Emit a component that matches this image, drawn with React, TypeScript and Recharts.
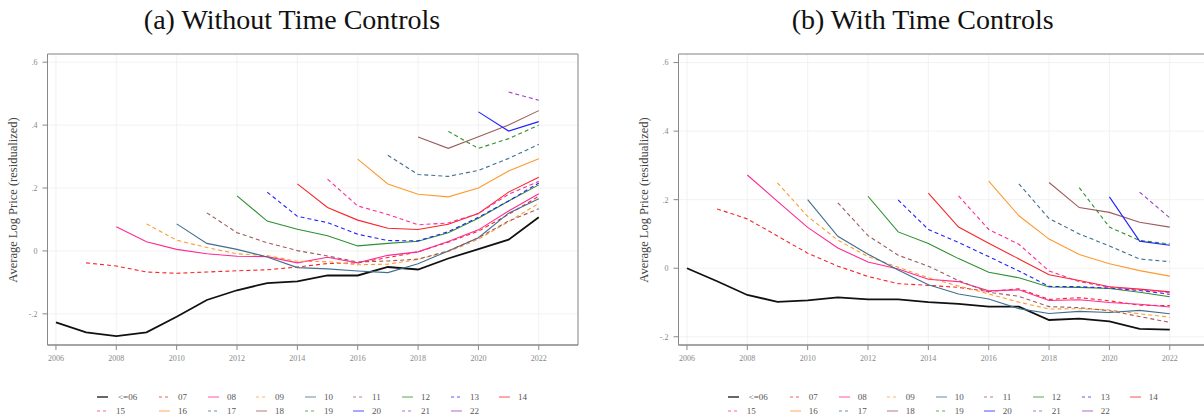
import { LineChart, Line, XAxis, YAxis, CartesianGrid, ReferenceArea } from "recharts";

// cohorts (year of first listing) and calendar years
const years = [2006, 2007, 2008, 2009, 2010, 2011, 2012, 2013, 2014, 2015, 2016, 2017, 2018, 2019, 2020, 2021, 2022];
const cohorts = ["<=06", "07", "08", "09", "10", "11", "12", "13", "14", "15", "16", "17", "18", "19", "20", "21", "22"];
const cohortStart = [2006, 2007, 2008, 2009, 2010, 2011, 2012, 2013, 2014, 2015, 2016, 2017, 2018, 2019, 2020, 2021, 2022];
const xTicks = [2006, 2008, 2010, 2012, 2014, 2016, 2018, 2020, 2022];
const yTicks = [-0.2, 0, 0.2, 0.4, 0.6];

// (a) without time controls, each list starts at its cohort year
const noControls: number[][] = [
  [-0.227, -0.259, -0.271, -0.259, -0.209, -0.156, -0.125, -0.102, -0.097, -0.078, -0.078, -0.051, -0.059, -0.024, 0.006, 0.036, 0.107],
  [-0.038, -0.048, -0.067, -0.071, -0.067, -0.063, -0.06, -0.051, -0.04, -0.038, -0.021, -0.003, 0.028, 0.063, 0.116, 0.174],
  [0.077, 0.029, 0.005, -0.009, -0.017, -0.018, -0.038, -0.02, -0.038, -0.014, -0.003, 0.03, 0.067, 0.127, 0.182],
  [0.086, 0.034, 0.011, -0.009, -0.015, -0.033, -0.034, -0.044, -0.042, -0.027, -0.002, 0.037, 0.093, 0.151],
  [0.086, 0.024, 0.005, -0.019, -0.053, -0.057, -0.064, -0.069, -0.041, 0.0, 0.042, 0.12, 0.166],
  [0.121, 0.058, 0.026, 0.001, -0.016, -0.035, -0.032, -0.026, 0.0, 0.042, 0.095, 0.134],
  [0.175, 0.095, 0.069, 0.048, 0.016, 0.024, 0.031, 0.058, 0.104, 0.159, 0.21],
  [0.187, 0.11, 0.09, 0.053, 0.033, 0.032, 0.061, 0.107, 0.159, 0.216],
  [0.213, 0.138, 0.098, 0.072, 0.068, 0.085, 0.119, 0.187, 0.234],
  [0.228, 0.143, 0.116, 0.083, 0.089, 0.119, 0.18, 0.221],
  [0.292, 0.213, 0.18, 0.172, 0.2, 0.254, 0.293],
  [0.304, 0.243, 0.237, 0.256, 0.294, 0.339],
  [0.362, 0.326, 0.363, 0.4, 0.446],
  [0.38, 0.326, 0.357, 0.4],
  [0.442, 0.381, 0.411],
  [0.505, 0.479],
  [0.47],
];

// (b) with time controls
const withControls: number[][] = [
  [0, -0.038, -0.078, -0.098, -0.094, -0.085, -0.091, -0.091, -0.099, -0.104, -0.112, -0.112, -0.151, -0.147, -0.155, -0.177, -0.179],
  [0.173, 0.144, 0.094, 0.044, 0.006, -0.024, -0.045, -0.05, -0.056, -0.068, -0.06, -0.091, -0.086, -0.095, -0.108, -0.109],
  [0.272, 0.195, 0.119, 0.059, 0.018, -0.002, -0.032, -0.039, -0.066, -0.063, -0.094, -0.092, -0.1, -0.105, -0.113],
  [0.249, 0.151, 0.082, 0.034, 0.003, -0.028, -0.052, -0.075, -0.099, -0.119, -0.118, -0.122, -0.133, -0.143],
  [0.2, 0.093, 0.041, -0.005, -0.048, -0.075, -0.09, -0.118, -0.132, -0.126, -0.129, -0.123, -0.133],
  [0.191, 0.095, 0.038, 0.006, -0.036, -0.07, -0.082, -0.112, -0.115, -0.124, -0.141, -0.158],
  [0.21, 0.106, 0.072, 0.028, -0.012, -0.028, -0.055, -0.056, -0.059, -0.07, -0.083],
  [0.199, 0.113, 0.075, 0.034, -0.008, -0.053, -0.054, -0.058, -0.065, -0.076],
  [0.219, 0.12, 0.073, 0.027, -0.019, -0.036, -0.054, -0.061, -0.069],
  [0.211, 0.113, 0.07, -0.008, -0.039, -0.055, -0.063, -0.071],
  [0.254, 0.153, 0.085, 0.04, 0.013, -0.007, -0.023],
  [0.246, 0.145, 0.1, 0.065, 0.027, 0.019],
  [0.25, 0.177, 0.163, 0.134, 0.12],
  [0.235, 0.12, 0.081, 0.071],
  [0.208, 0.079, 0.067],
  [0.222, 0.147],
  [0.13],
];

const COLORS = [
  "#111111", "#f8262b", "#ff2a93", "#ff9a2e", "#3f6f8f", "#9e5b5b", "#2f8f2f", "#2323ff",
  "#f8262b", "#ff2a93", "#ff9a2e", "#3f6f8f", "#9e5b5b", "#2f8f2f", "#2323ff", "#a046c0", "#a046c0",
];

const FONT = "'Liberation Serif', 'DejaVu Serif', serif";
const isDashed = (i: number) => i % 2 === 1;

function buildRows(series: number[][]) {
  return years.map((year) => {
    const row: Record<string, number | null> = { year };
    series.forEach((vals, i) => {
      const k = year - cohortStart[i];
      row["c" + i] = k >= 0 && k < vals.length ? vals[k] : null;
    });
    return row;
  });
}

const fmtY = (v: number) => {
  if (Math.abs(v) < 1e-9) return "0";
  const s = Math.abs(v).toFixed(1).replace(/^0/, "");
  return (v < 0 ? "-" : "") + s;
};

const X_DOMAIN: [number, number] = [2005.72, 2023.3];

function Panel({ series, yDomain, left, title }: { series: number[][]; yDomain: [number, number]; left: number; title: string }) {
  const rows = buildRows(series);
  const tickStyle = { fontSize: 8, fill: "#888", fontFamily: FONT };
  return (
    <>
      <div
        style={{
          position: "absolute", left: left + 292 - 200, top: 3, width: 400, textAlign: "center",
          fontFamily: FONT, fontSize: 28, color: "#111", lineHeight: "34px",
        }}
      >
        {title}
      </div>
      <div
        style={{
          position: "absolute", left: left + 13 - 100, top: 200 - 8, width: 200, height: 16,
          textAlign: "center", transform: "rotate(-90deg)", fontFamily: FONT, fontSize: 12.5,
          color: "#444", lineHeight: "16px", whiteSpace: "nowrap",
        }}
      >
        Average Log Price (residualized)
      </div>
      <div style={{ position: "absolute", left, top: 0 }}>
        <LineChart width={600} height={370} data={rows} margin={{ top: 54, right: 22, left: 0, bottom: 0 }}>
          <CartesianGrid stroke="#efefef" strokeWidth={0.8} />
          <XAxis
            dataKey="year" type="number" domain={X_DOMAIN} allowDataOverflow ticks={xTicks}
            tick={tickStyle} tickSize={5} tickMargin={5} height={25}
            stroke="#888" interval={0}
          />
          <YAxis
            type="number" domain={yDomain} allowDataOverflow ticks={yTicks} tickFormatter={fmtY}
            tick={tickStyle} tickSize={5} tickMargin={5} width={47.5} stroke="#888" interval={0}
          />
          <ReferenceArea
            x1={X_DOMAIN[0]} x2={X_DOMAIN[1]} y1={yDomain[0]} y2={yDomain[1]}
            fill="none" stroke="#888" strokeWidth={1} ifOverflow="visible"
          />
          {cohorts.map((c, i) => (
            <Line
              key={c} dataKey={"c" + i} name={c} stroke={COLORS[i]}
              strokeWidth={i === 0 ? 1.8 : 1.1}
              strokeDasharray={isDashed(i) ? "4 3" : undefined}
              dot={false} activeDot={false} connectNulls={false} isAnimationActive={false}
            />
          ))}
        </LineChart>
      </div>
      <Legend left={left} />
    </>
  );
}

function Legend({ left }: { left: number }) {
  const colX = [97, 159, 208, 256, 305, 353, 402, 451, 499];
  const rowY = [397, 411];
  return (
    <>
      {cohorts.map((c, i) => {
        const col = i % 9;
        const row = Math.floor(i / 9);
        const x = left + colX[col];
        const y = rowY[row];
        return (
          <div key={c} style={{ position: "absolute", left: x, top: y - 7, height: 14, display: "flex", alignItems: "center" }}>
            <svg width={12} height={14} style={{ display: "block" }}>
              <line
                x1={0} x2={11} y1={7} y2={7} stroke={COLORS[i]} strokeWidth={1.6}
                strokeOpacity={i === 0 ? 0.8 : 0.5} strokeDasharray={isDashed(i) ? "3 3" : undefined}
              />
            </svg>
            <span style={{ marginLeft: i === 0 ? 9 : 7, fontFamily: FONT, fontSize: 9, color: "#555", whiteSpace: "nowrap" }}>{c}</span>
          </div>
        );
      })}
    </>
  );
}

export default function App() {
  return (
    <div style={{ position: "fixed", left: 0, top: 0, width: 1204, height: 419, overflow: "hidden", background: "#fff" }}>
      <Panel series={noControls} yDomain={[-0.299, 0.626]} left={0} title="(a) Without Time Controls" />
      <Panel series={withControls} yDomain={[-0.224, 0.625]} left={630.7} title="(b) With Time Controls" />
    </div>
  );
}
